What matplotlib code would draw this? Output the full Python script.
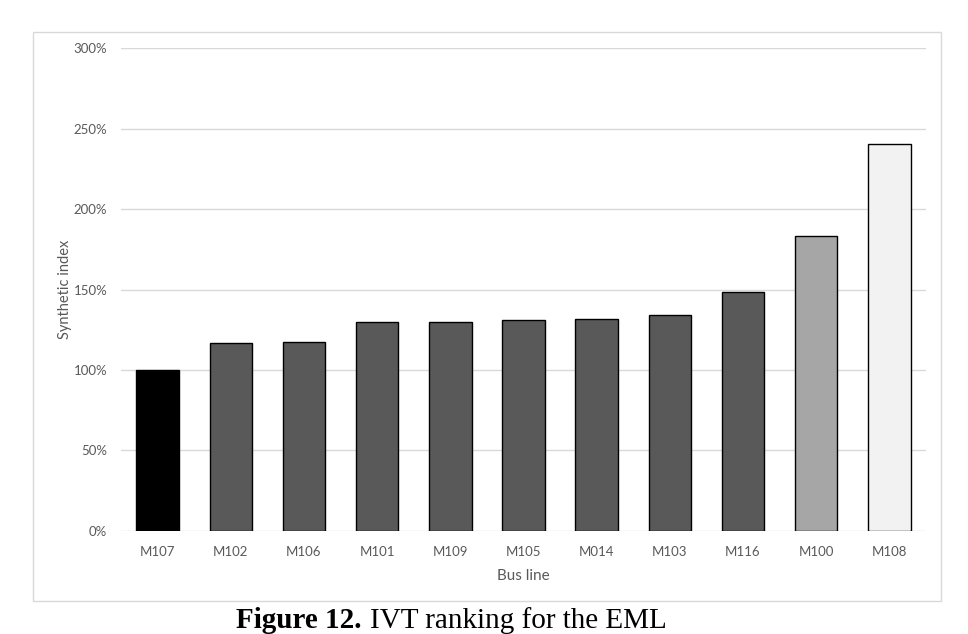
import matplotlib.pyplot as plt
from matplotlib.patches import Rectangle

lines = ["M107", "M102", "M106", "M101", "M109", "M105", "M014", "M103", "M116", "M100", "M108"]
index = [1.00, 1.17, 1.175, 1.296, 1.296, 1.31, 1.319, 1.341, 1.485, 1.83, 2.405]
colors = ["#000000"] + ["#595959"] * 8 + ["#a6a6a6", "#f2f2f2"]
yticks = [0, 0.5, 1.0, 1.5, 2.0, 2.5, 3.0]
ylabels = ["0%", "50%", "100%", "150%", "200%", "250%", "300%"]

plt.rcParams['font.family'] = ['Lato', 'DejaVu Sans']

W, H = 968, 634
fig = plt.figure(figsize=(W / 100, H / 100), dpi=100)
# chart frame
fig.patches.append(Rectangle((33 / W, 33 / H), 908 / W, 569 / H,
                             transform=fig.transFigure, fill=False,
                             edgecolor="#d9d9d9", linewidth=1))

ax = fig.add_axes([121 / W, 103.3 / H, 805 / W, 482.4 / H])
ax.bar(range(len(lines)), index, width=0.58, color=colors, edgecolor="black",
       linewidth=1, zorder=3)
ax.set_xlim(-0.5, len(lines) - 0.5)
ax.set_ylim(0, 3)
ax.set_yticks(yticks)
ax.set_yticklabels(ylabels)
ax.set_xticks(range(len(lines)))
ax.set_xticklabels(lines)
ax.grid(axis="y", color="#d9d9d9", linewidth=1, zorder=0)
for s in ax.spines.values():
    s.set_visible(False)
ax.tick_params(length=0, colors="#595959", labelsize=9.5)
ax.tick_params(axis="y", pad=10)
ax.tick_params(axis="x", pad=11)
ax.set_xlabel("Bus line", color="#595959", fontsize=11, labelpad=8)
ax.set_ylabel("Synthetic index", color="#595959", fontsize=10.5, labelpad=1)

# caption below the chart frame
t1 = fig.text(236 / W, 6 / H, "Figure 12.", family="Liberation Serif",
              fontsize=21, fontweight="bold", va="baseline")
r = fig.canvas.get_renderer()
bb = t1.get_window_extent(renderer=r)
fig.text((bb.x1 + 9) / W, 6 / H, "IVT ranking for the EML",
         family="Liberation Serif", fontsize=21, va="baseline")

fig.savefig("out.png", dpi=100)
